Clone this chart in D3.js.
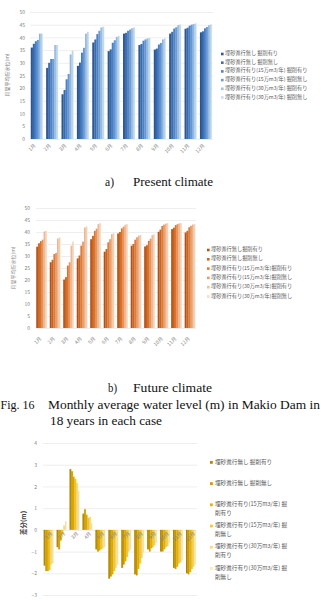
<!DOCTYPE html>
<html><head><meta charset="utf-8">
<script src="https://cdn.jsdelivr.net/npm/d3@7"></script>
<style>body{margin:0;background:#fff}svg{display:block}</style>
</head><body>
<script>
const months = ["1月","2月","3月","4月","5月","6月","7月","8月","9月","10月","11月","12月"];
const seriesNames = [
  "埋砂進行無し 掘削有り",
  "埋砂進行無し 掘削無し",
  "埋砂進行有り(15万m3/年) 掘削有り",
  "埋砂進行有り(15万m3/年) 掘削無し",
  "埋砂進行有り(30万m3/年) 掘削有り",
  "埋砂進行有り(30万m3/年) 掘削無し"
];
const seriesNamesWrapped = [
  ["埋砂進行無し 掘削有り"],
  ["埋砂進行無し 掘削無し"],
  ["埋砂進行有り(15万m3/年) 掘","削有り"],
  ["埋砂進行有り(15万m3/年) 掘","削無し"],
  ["埋砂進行有り(30万m3/年) 掘","削有り"],
  ["埋砂進行有り(30万m3/年) 掘","削無し"]
];
// a) Present climate
const presentS1 = [36, 28, 17.6, 28.8, 38, 34.6, 41.5, 37, 35.2, 41.5, 43.4, 42];
const presentS2 = [37.5, 30, 19.3, 30.1, 39.2, 35.3, 41.8, 37.4, 35.6, 42.2, 43.8, 42.4];
const presentS3 = [38.5, 31.5, 23.5, 34, 41.3, 37.9, 42.6, 38.7, 37.2, 43.5, 44.6, 43.6];
const presentS4 = [39, 31.5, 25.6, 35.9, 42.6, 38.9, 43.1, 39.2, 37.8, 44, 45, 44.1];
const presentS5 = [41.5, 37, 33.3, 41.5, 43.9, 40.2, 43.6, 39.6, 39.2, 44.8, 45.3, 44.8];
const presentS6 = [41.5, 37, 34.7, 42.2, 44.2, 40.6, 43.9, 39.8, 39.6, 45.1, 45.5, 45.1];
// b) Future climate
const futureS1 = [33.9, 27.4, 20.2, 29, 37, 31.8, 39.4, 34.3, 34, 40.1, 41.2, 39.8];
const futureS2 = [35.3, 28.4, 21.2, 30.2, 38.4, 32.9, 40, 35, 34.5, 41, 41.8, 40.5];
const futureS3 = [36.2, 30.8, 26, 34.3, 40.5, 35.7, 41.5, 36.8, 36.3, 42.5, 42.9, 42];
const futureS4 = [36.8, 31.3, 27.4, 36, 41.4, 37, 42.2, 37.8, 37.2, 43.1, 43.3, 42.6];
const futureS5 = [40.2, 37.3, 34.3, 41.9, 43.3, 39.1, 43, 38.5, 38.7, 43.5, 43.6, 43.1];
const futureS6 = [40.5, 37.7, 36, 42.3, 43.7, 39.5, 43.3, 38.8, 39.1, 43.7, 43.7, 43.3];
// c) Difference
const diffS1 = [-1.65, -0.8, 2.8, 0.75, -0.9, -2.25, -1.75, -2.05, -0.9, -1.0, -1.75, -2.0];
const diffS2 = [-1.9, -0.9, 2.7, 0.95, -1.0, -2.15, -1.6, -2.1, -1.0, -1.0, -1.8, -2.05];
const diffS3 = [-1.9, -0.5, 2.45, 0.7, -0.95, -2.05, -1.45, -1.8, -0.85, -0.9, -1.7, -1.95];
const diffS4 = [-1.85, -0.2, 2.35, 0.55, -0.9, -1.9, -1.25, -1.55, -0.8, -0.8, -1.55, -1.8];
const diffS5 = [-1.6, 0.2, 2.15, 0.6, -0.85, -1.75, -1.0, -1.3, -0.7, -0.75, -1.5, -1.7];
const diffS6 = [-1.55, 0.4, 1.8, 0.3, -0.8, -1.6, -0.9, -1.05, -0.6, -0.6, -1.4, -1.6];

const ticksA = [0,5,10,15,20,25,30,35,40,45,50];
const ticksC = [-3,-2,-1,0,1,2,3,4];

const blues = ["#2E5A94","#3B6DB3","#4E84C8","#6C9CD6","#9CC0E6","#C9DDF2"];
const oranges = ["#B8541A","#D0661F","#E07C38","#EE9A62","#F5BD98","#FADCC8"];
const golds = ["#B88A00","#CE9E00","#E8B000","#F6C633","#FAD97A","#FDEBB8"];

const presentData = [presentS1,presentS2,presentS3,presentS4,presentS5,presentS6];
const futureData = [futureS1,futureS2,futureS3,futureS4,futureS5,futureS6];
const diffData = [diffS1,diffS2,diffS3,diffS4,diffS5,diffS6];

const W=321,H=601;
const svg = d3.select("body").append("svg").attr("width",W).attr("height",H);
const defs = svg.append("defs");
const JP = "'Noto Sans CJK JP','Noto Sans',sans-serif";

function grad(id, c){
  const g = defs.append("linearGradient").attr("id",id).attr("x1",0).attr("x2",1).attr("y1",0).attr("y2",0);
  g.append("stop").attr("offset","0%").attr("stop-color", d3.color(c).darker(0.35));
  g.append("stop").attr("offset","55%").attr("stop-color", c);
  g.append("stop").attr("offset","100%").attr("stop-color", d3.color(c).brighter(0.45));
  return "url(#"+id+")";
}

function chart(o){
  const g = svg.append("g");
  const y = d3.scaleLinear().domain(o.domain).range([o.y0, o.y1]);
  const x0 = d3.scaleBand().domain(months).range([o.x0, o.x1]).paddingInner(o.pin).paddingOuter(o.pout);
  const x1 = d3.scaleBand().domain(d3.range(6)).range([0, x0.bandwidth()]);
  const ax = g.append("g").attr("transform",`translate(${o.x0},0)`)
    .call(d3.axisLeft(y).tickValues(o.ticks).tickSize(-(o.x1-o.x0)).tickPadding(o.tpad).tickFormat(d3.format("d")));
  ax.select(".domain").remove();
  ax.selectAll(".tick line").attr("stroke","#E3E3E3").attr("stroke-width",0.6);
  ax.selectAll(".tick text").attr("fill","#7F7F7F").style("font-family",JP).style("font-size",o.tfs+"px");
  const fills = o.colors.map((c,i)=>grad(o.id+i,c));
  const data = o.data;
  months.forEach((m,mi)=>{
    data.forEach((s,si)=>{
      const v = s[mi];
      g.append("rect")
        .attr("x", x0(m)+x1(si))
        .attr("width", x1.bandwidth()+0.15)
        .attr("y", y(Math.max(0,v)))
        .attr("height", Math.abs(y(v)-y(0)))
        .attr("fill", fills[si]);
    });
  });
  months.forEach(m=>{
    const cx = x0(m)+x0.bandwidth()/2 + o.lx;
    g.append("text").attr("transform",`translate(${cx},${o.ly}) rotate(-45)`)
      .attr("text-anchor","end").attr("fill","#7F7F7F")
      .style("font-family",JP).style("font-size",o.mfs+"px").text(m);
  });
  g.append("text").attr("transform",`translate(${o.tx},${o.ty}) rotate(-90)`)
    .attr("text-anchor","middle").attr("fill",o.tcol).style("font-family",JP)
    .style("font-size",o.tfs2+"px").style("font-weight",o.tw||"normal").text(o.title);
  o.legend.forEach((lines,i)=>{
    const yy = o.ly0 + i*o.lstep;
    g.append("rect").attr("x",o.lgx).attr("y",yy-o.ms+0.3).attr("width",o.ms).attr("height",o.ms).attr("fill",o.colors[i]);
    lines.forEach((t,li)=>{
      g.append("text").attr("x",o.lgx+o.lgdx).attr("y",yy+li*o.lline).attr("fill","#595959")
        .style("font-family",JP).style("font-size",o.lfs+"px").text(t);
    });
  });
}

chart({id:"a", domain:[0,50], y0:139, y1:12, x0:30, x1:213, pin:0.2, pout:0.05, ticks:ticksA, tpad:5, tfs:5,
  colors:blues, data:presentData, lx:-1, ly:146, mfs:5,
  tx:9, ty:75, title:"月間平均貯水位(m)", tfs2:5, tcol:"#7F7F7F",
  legend:seriesNames.map(s=>[s]), ly0:55, lstep:8.7, lgx:221, lgdx:4, ms:2.6, lfs:5.2, lline:0});

chart({id:"b", domain:[0,50], y0:328, y1:208, x0:36, x1:196, pin:0.18, pout:0.02, ticks:ticksA, tpad:6, tfs:5,
  colors:oranges, data:futureData, lx:0, ly:339, mfs:5,
  tx:15, ty:268, title:"月間平均貯水位(m)", tfs2:5, tcol:"#8F8F8F",
  legend:seriesNames.map(s=>[s.replace(" ","")]), ly0:251, lstep:9.3, lgx:207, lgdx:4, ms:2.6, lfs:5.2, lline:0});

chart({id:"c", domain:[-3,4], y0:595, y1:443, x0:43, x1:197, pin:0.2, pout:0.05, ticks:ticksC, tpad:6, tfs:5,
  colors:golds, data:diffData, lx:4, ly:534, mfs:5,
  tx:26, ty:523, title:"差分(m)", tfs2:6.5, tcol:"#404040", tw:"bold",
  legend:seriesNamesWrapped, ly0:463.5, lstep:21.2, lgx:210, lgdx:5, ms:2.8, lfs:5.6, lline:9});

const SERIF = "'Liberation Serif','DejaVu Serif',serif";
function cap(x,y,t,len){
  svg.append("text").attr("x",x).attr("y",y).attr("fill","#111").style("font-family",SERIF)
    .style("font-size","12.5px").attr("textLength",len).attr("lengthAdjust","spacingAndGlyphs").text(t);
}
cap(105,186,"a)",9); cap(133,186,"Present climate",80);
cap(108,392,"b)",9); cap(133,392,"Future climate",79);
cap(0.5,409,"Fig. 16",34); cap(48,409,"Monthly average water level (m) in Makio Dam in",272);
cap(50,425,"18 years in each case",112);
</script>
</body></html>
